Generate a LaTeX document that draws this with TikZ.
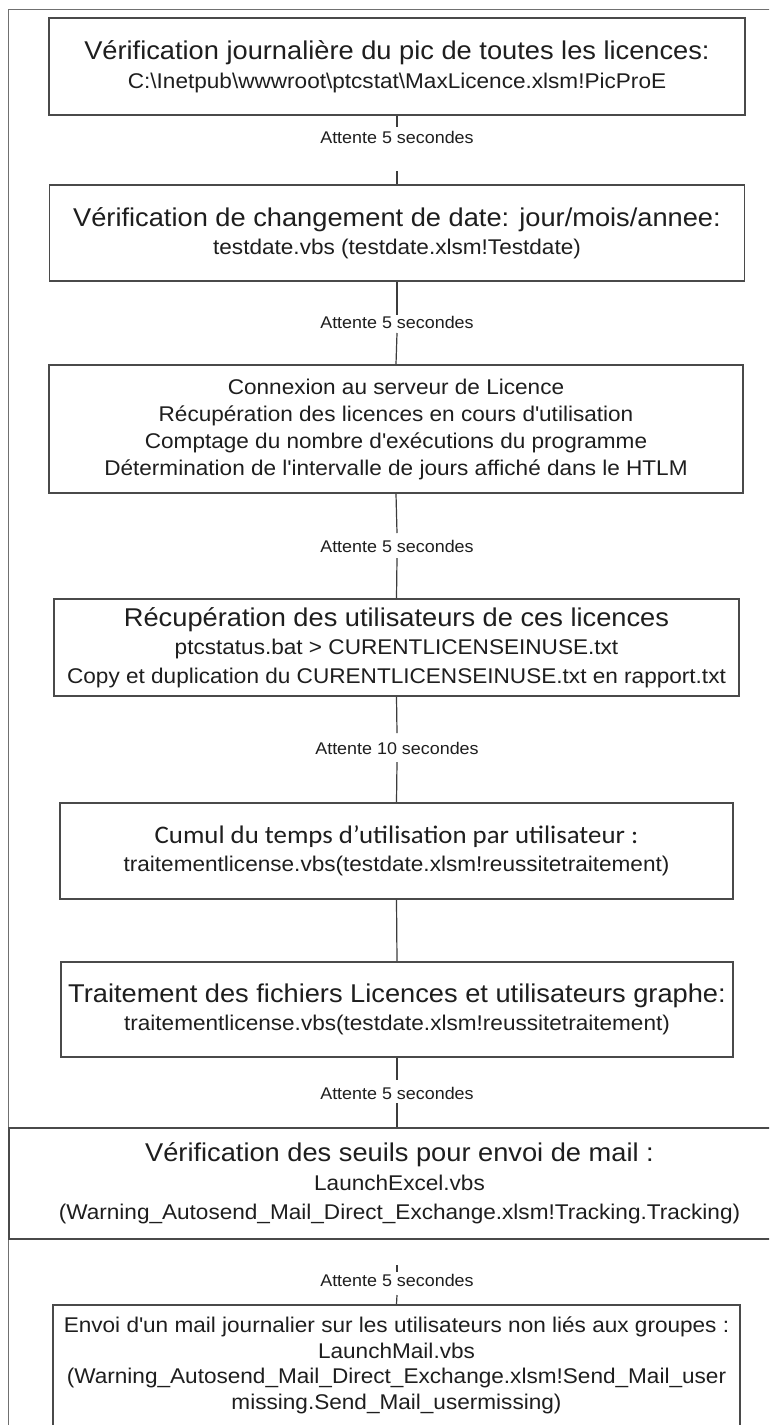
\documentclass[tikz,border=0pt]{standalone}
\usepackage{fontspec}
\setmainfont{Liberation Sans}[FakeStretch=1.06]
\newfontfamily\calibrifont{Carlito}[FakeStretch=1.06]
\definecolor{flowInk}{HTML}{1E1E1E}
\definecolor{flowBorder}{HTML}{4A4A4A}
\definecolor{flowLink}{HTML}{3C3C3C}
\definecolor{flowFrame}{HTML}{707070}
\newcommand{\headfont}{\fontsize{25.7}{28.5}\selectfont}
\newcommand{\codefont}{\fontsize{21.3}{28.5}\selectfont}
\newcommand{\waitfont}{\fontsize{16.9}{19}\selectfont}

\begin{document}
\begin{tikzpicture}[x=1pt, y=-1pt,
    stepbox/.style={draw=flowBorder, line width=1.8pt, fill=white, text=flowInk, align=center, inner sep=0pt, font=\codefont},
    waitlabel/.style={text=flowInk, font=\waitfont, inner sep=0pt},
    link/.style={draw=flowLink, line width=1.2pt}]
  \path[use as bounding box, clip] (0,0) rectangle (769,1425);
  \fill[white] (0,0) rectangle (769,1425);
  % cadre
  \draw[flowFrame, line width=1pt] (8,1430) -- (8,9) -- (775,9);

  % etapes
  \node[stepbox, minimum width=696, minimum height=97] (verifpic) at (397,66.5)
    {{\headfont Vérification journalière du pic de toutes les licences:}\\
     C:\textbackslash Inetpub\textbackslash wwwroot\textbackslash ptcstat\textbackslash MaxLicence.xlsm!PicProE};
  \node[stepbox, minimum width=695, minimum height=96] (verifdate) at (397,233)
    {{\headfont Vérification de changement de date: jour/mois/annee:}\\
     testdate.vbs (testdate.xlsm!Testdate)};
  \node[stepbox, minimum width=694, minimum height=128, font=\fontsize{21.3}{27}\selectfont] (connexion) at (396,429)
    {Connexion au serveur de Licence\\
     Récupération des licences en cours d\textquotesingle utilisation\\
     Comptage du nombre d\textquotesingle exécutions du programme\\
     Détermination de l\textquotesingle intervalle de jours affiché dans le HTLM};
  \node[stepbox, minimum width=685, minimum height=97] (recupusers) at (396.5,647.5)
    {{\headfont Récupération des utilisateurs de ces licences}\\
     ptcstatus.bat > CURENTLICENSEINUSE.txt\\
     Copy et duplication du CURENTLICENSEINUSE.txt en rapport.txt};
  \node[stepbox, minimum width=673, minimum height=96] (cumul) at (396.5,851)
    {{\calibrifont\fontsize{25.3}{28.5}\selectfont Cumul du temps d’utilisation par utilisateur :}\\
     traitementlicense.vbs(testdate.xlsm!reussitetraitement)};
  \node[stepbox, minimum width=672, minimum height=95] (traitement) at (397,1009.5)
    {{\headfont Traitement des fichiers Licences et utilisateurs graphe:}\\
     traitementlicense.vbs(testdate.xlsm!reussitetraitement)};
  \node[stepbox, minimum width=781, minimum height=111, font=\fontsize{21.3}{29}\selectfont] (seuils) at (399.5,1183.5)
    {{\headfont Vérification des seuils pour envoi de mail :}\\
     LaunchExcel.vbs\\
     (Warning\_Autosend\_Mail\_Direct\_Exchange.xlsm!Tracking.Tracking)};
  \node[stepbox, anchor=north, minimum width=687, inner ysep=12pt, text depth=60pt, font=\fontsize{21.3}{25.5}\selectfont] (envoimail) at (396.5,1304)
    {Envoi d\textquotesingle un mail journalier sur les utilisateurs non liés aux groupes :\\
     LaunchMail.vbs\\
     (Warning\_Autosend\_Mail\_Direct\_Exchange.xlsm!Send\_Mail\_user\\
     missing.Send\_Mail\_usermissing)};

  % attentes
  \node[waitlabel] (wait1) at (397,137) {Attente 5 secondes};
  \node[waitlabel] (wait2) at (397,322) {Attente 5 secondes};
  \node[waitlabel] (wait3) at (397,546) {Attente 5 secondes};
  \node[waitlabel] (wait4) at (397,748) {Attente 10 secondes};
  \node[waitlabel] (wait6) at (397,1093) {Attente 5 secondes};
  \node[waitlabel] (wait7) at (397,1280) {Attente 5 secondes};

  \coordinate (cut1a) at (397,127);  \coordinate (cut1b) at (397,171);
  \coordinate (cut2a) at (397,315);  \coordinate (cut2b) at (397,333);
  \coordinate (cut3a) at (397,533);  \coordinate (cut3b) at (397,558);
  \coordinate (cut4a) at (397,733);  \coordinate (cut4b) at (397,762);
  \coordinate (cut6a) at (397,1080); \coordinate (cut6b) at (397,1103);
  \coordinate (tick7a) at (397,1265); \coordinate (tick7b) at (397,1272);
  \coordinate (cut7b) at (397,1295);

  % liaisons
  \draw[link] (verifpic.south) -- (cut1a);
  \draw[link] (cut1b) -- (verifdate.north);
  \draw[link] (verifdate.south) -- (cut2a);
  \draw[link] (cut2b) -- (connexion.north);
  \draw[link] (connexion.south) -- (cut3a);
  \draw[link] (cut3b) -- (recupusers.north);
  \draw[link] (recupusers.south) -- (cut4a);
  \draw[link] (cut4b) -- (cumul.north);
  \draw[link] (cumul.south) -- (traitement.north);
  \draw[link] (traitement.south) -- (cut6a);
  \draw[link] (cut6b) -- (cut6b |- seuils.north);
  \draw[link] (tick7a) -- (tick7b);
  \draw[link] (cut7b) -- (envoimail.north);
\end{tikzpicture}
\end{document}
